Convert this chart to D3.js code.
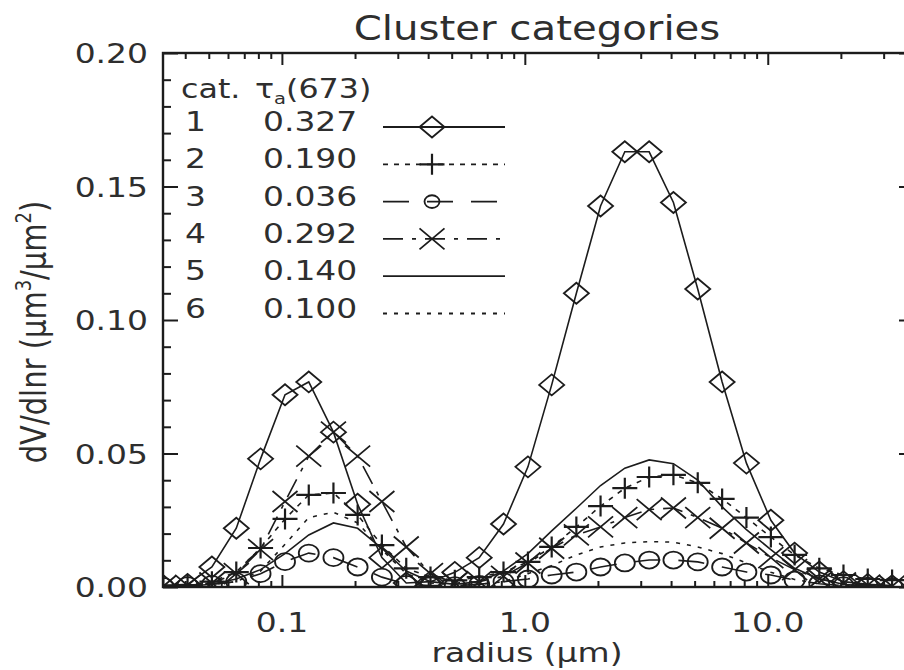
<!DOCTYPE html>
<html>
<head>
<meta charset="utf-8">
<script src="https://cdn.jsdelivr.net/npm/d3@7"></script>
<style>
  body { margin: 0; background: #fff; }
  text { font-family: "DejaVu Sans", sans-serif; fill: #2e2e2e; }
</style>
</head>
<body>
<div id="chart"></div>
<script>
// radius grid (um)
const radius = [0.0325, 0.0409, 0.0515, 0.0649, 0.0817, 0.103, 0.129, 0.163, 0.205, 0.258,
    0.325, 0.409, 0.515, 0.649, 0.817, 1.03, 1.29, 1.63, 2.05, 2.58,
    3.25, 4.09, 5.15, 6.49, 8.17, 10.3, 12.9, 16.3, 20.5, 25.8, 32.5];

// dV/dlnr for each cluster category
const cat1 = [0.0005, 0.001, 0.0075, 0.022, 0.048, 0.072, 0.0768, 0.058, 0.031, 0.011,
    0.0015, 0.002, 0.0055, 0.011, 0.0236, 0.045, 0.0757, 0.110, 0.1427, 0.163,
    0.163, 0.144, 0.1116, 0.0768, 0.0464, 0.025, 0.0127, 0.0056, 0.002, 0.001, 0.0005];
const cat2 = [0.0005, 0.0007, 0.002, 0.0056, 0.0146, 0.0255, 0.0345, 0.0352, 0.027, 0.0157,
    0.007, 0.0037, 0.0025, 0.0037, 0.0056, 0.0094, 0.015, 0.0225, 0.0303, 0.037,
    0.0412, 0.042, 0.039, 0.033, 0.026, 0.0187, 0.012, 0.007, 0.0045, 0.003, 0.0026];
const cat3 = [0.0002, 0.0005, 0.001, 0.002, 0.005, 0.0095, 0.0127, 0.011, 0.0075, 0.0037,
    0.001, 0.0005, 0.0005, 0.001, 0.002, 0.003, 0.0045, 0.0056, 0.0075, 0.009,
    0.0101, 0.0101, 0.0094, 0.0075, 0.0056, 0.0045, 0.0026, 0.0012, 0.0005, 0.0003, 0.0002];
const cat4 = [0.0003, 0.0006, 0.0015, 0.005, 0.014, 0.032, 0.049, 0.058, 0.049, 0.032,
    0.015, 0.005, 0.0015, 0.002, 0.004, 0.009, 0.0145, 0.0195, 0.0225, 0.026,
    0.029, 0.0296, 0.026, 0.022, 0.0165, 0.011, 0.0065, 0.003, 0.0015, 0.0007, 0.0003];
const cat5 = [0, 0.0003, 0.001, 0.003, 0.0065, 0.0125, 0.0195, 0.024, 0.022, 0.0145,
    0.006, 0.002, 0.001, 0.002, 0.006, 0.0125, 0.021, 0.0295, 0.038, 0.0445,
    0.0476, 0.0462, 0.040, 0.030, 0.0215, 0.014, 0.007, 0.003, 0.001, 0.0003, 0];
const cat6 = [0, 0.0003, 0.001, 0.002, 0.006, 0.016, 0.026, 0.028, 0.024, 0.014,
    0.005, 0.0015, 0.0008, 0.001, 0.002, 0.005, 0.008, 0.012, 0.015, 0.0165,
    0.017, 0.0168, 0.015, 0.0125, 0.009, 0.0055, 0.0028, 0.0012, 0.0005, 0.0002, 0];

const categories = ["1", "2", "3", "4", "5", "6"];
const tauValues = ["0.327", "0.190", "0.036", "0.292", "0.140", "0.100"];
const symbols = ["diamond", "plus", "circle", "cross", null, null];
const dashes = [null, "5,6", "26,18", "20,9,4,9", null, "4,7"];

const xTicks = [0.1, 1, 10];
const xTickLabels = ["0.1", "1.0", "10.0"];
const yTicks = [0, 0.05, 0.10, 0.15, 0.20];
const yTickLabels = ["0.00", "0.05", "0.10", "0.15", "0.20"];

const width = 904, height = 670;
const SX = 1.22; // horizontal stretch of lettering
const ink = "#1c1c1c";

const svg = d3.select("#chart").append("svg")
    .attr("width", width)
    .attr("height", height);

const x = d3.scaleLog().domain([0.0324, 40]).range([163, 914]);
const y = d3.scaleLinear().domain([0, 0.2]).range([587, 53]);

const [x0, x1] = x.range();
const [y0, y1] = y.range();

svg.append("clipPath").attr("id", "plotclip")
    .append("rect")
    .attr("x", x0).attr("y", y1)
    .attr("width", x1 - x0).attr("height", y0 - y1);

function txt(g, px, py, s, size, anchor) {
    return g.append("text")
        .attr("transform", `translate(${px},${py}) scale(${SX},1)`)
        .attr("font-size", size)
        .attr("text-anchor", anchor || "start")
        .text(s);
}

// ---- axes (ticks point inward, IDL style)
const xMinor = [];
[0.01, 0.1, 1, 10].forEach(d => {
    for (let k = 2; k <= 9; k++) {
        const v = d * k;
        if (v > x.domain()[0] && v < x.domain()[1]) xMinor.push(v);
    }
});
const yMinor = d3.range(0, 0.2001, 0.01).filter(v => Math.abs(v * 20 - Math.round(v * 20)) > 1e-6);

const axes = svg.append("g").attr("class", "axes");
const styleAxis = g => {
    g.select(".domain").remove();
    g.selectAll("line").attr("stroke", ink).attr("stroke-width", 2);
    g.selectAll("text").remove();
};

axes.append("g").attr("transform", `translate(0,${y0})`)
    .call(d3.axisBottom(x).tickValues(xTicks).tickSize(-12)).call(styleAxis);
axes.append("g").attr("transform", `translate(0,${y0})`)
    .call(d3.axisBottom(x).tickValues(xMinor).tickSize(-6)).call(styleAxis);
axes.append("g").attr("transform", `translate(0,${y1})`)
    .call(d3.axisTop(x).tickValues(xTicks).tickSize(-12)).call(styleAxis);
axes.append("g").attr("transform", `translate(0,${y1})`)
    .call(d3.axisTop(x).tickValues(xMinor).tickSize(-6)).call(styleAxis);
axes.append("g").attr("transform", `translate(${x0},0)`)
    .call(d3.axisLeft(y).tickValues(yTicks).tickSize(-15)).call(styleAxis);
axes.append("g").attr("transform", `translate(${x0},0)`)
    .call(d3.axisLeft(y).tickValues(yMinor).tickSize(-8)).call(styleAxis);
axes.append("g").attr("transform", `translate(${x1},0)`)
    .call(d3.axisRight(y).tickValues(yTicks).tickSize(-15)).call(styleAxis);
axes.append("g").attr("transform", `translate(${x1},0)`)
    .call(d3.axisRight(y).tickValues(yMinor).tickSize(-8)).call(styleAxis);

axes.append("rect")
    .attr("x", x0).attr("y", y1)
    .attr("width", x1 - x0).attr("height", y0 - y1)
    .attr("fill", "none").attr("stroke", ink).attr("stroke-width", 2.4);

// tick labels
const labels = svg.append("g");
xTicks.forEach((t, i) => txt(labels, x(t), 632, xTickLabels[i], 27, "middle"));
yTicks.forEach((t, i) => txt(labels, 148, y(t) + 10, yTickLabels[i], 27, "end"));

// titles
txt(svg, 537, 40, "Cluster categories", 33, "middle");
txt(svg, 527, 662, "", 27, "middle")
    .call(t => {
        t.append("tspan").text("radius (");
        t.append("tspan").text("\u03bcm");
        t.append("tspan").text(")");
    });

const yl = svg.append("text")
    .attr("transform", `translate(46,332) rotate(-90) scale(1,${SX})`)
    .attr("font-size", 29)
    .attr("text-anchor", "middle");
yl.append("tspan").text("dV/dlnr (\u03bcm");
yl.append("tspan").attr("font-size", 18).attr("dy", -12).text("3");
yl.append("tspan").attr("dy", 12).text("/\u03bcm");
yl.append("tspan").attr("font-size", 18).attr("dy", -12).text("2");
yl.append("tspan").attr("dy", 12).text(")");

// ---- markers
function markerPath(kind, s) {
    const w = 12.5 * s, h = 10.5 * s;
    switch (kind) {
        case "diamond": return `M0,${-h}L${w},0L0,${h}L${-w},0Z`;
        case "plus": return `M${-w},0H${w}M0,${-h}V${h}`;
        case "cross": return `M${-w},${-h}L${w},${h}M${-w},${h}L${w},${-h}`;
        default: return null;
    }
}
function drawMarker(g, kind, px, py, s) {
    if (!kind) return;
    if (kind === "circle") {
        g.append("ellipse")
            .attr("cx", px).attr("cy", py)
            .attr("rx", 10 * s).attr("ry", 8.5 * s)
            .attr("fill", "none").attr("stroke", ink).attr("stroke-width", 1.8);
    } else {
        g.append("path")
            .attr("d", markerPath(kind, s))
            .attr("transform", `translate(${px},${py})`)
            .attr("fill", "none").attr("stroke", ink)
            .attr("stroke-width", kind === "plus" ? 2.2 : 1.8);
    }
}

// ---- series
const seriesValues = [cat1, cat2, cat3, cat4, cat5, cat6];
const plot = svg.append("g").attr("clip-path", "url(#plotclip)");
const line = d3.line()
    .x((d, i) => x(radius[i]))
    .y(d => y(d));

seriesValues.forEach((vals, k) => {
    plot.append("path")
        .datum(vals)
        .attr("d", line)
        .attr("fill", "none")
        .attr("stroke", ink)
        .attr("stroke-width", 1.6)
        .attr("stroke-dasharray", dashes[k]);
});
seriesValues.forEach((vals, k) => {
    vals.forEach((v, i) => drawMarker(plot, symbols[k], x(radius[i]), y(v), 1));
});

// ---- legend
const legend = svg.append("g");
txt(legend, 181, 98, "cat.", 26);
const hdr = txt(legend, 255, 98, "", 26);
hdr.append("tspan").text("\u03c4");
hdr.append("tspan").attr("font-size", 16).attr("dy", 6).text("a");
hdr.append("tspan").attr("dy", -6).text("(673)");

categories.forEach((c, k) => {
    const base = 131 + 37.3 * k;
    txt(legend, 185, base, c, 27);
    txt(legend, 263, base, tauValues[k], 27);
    const ly = base - 4;
    legend.append("line")
        .attr("x1", 383).attr("x2", 505)
        .attr("y1", ly).attr("y2", ly)
        .attr("stroke", ink).attr("stroke-width", 1.8)
        .attr("stroke-dasharray", dashes[k]);
    drawMarker(legend, symbols[k], 432, ly, symbols[k] === "circle" ? 0.75 : 1);
});
</script>
</body>
</html>
